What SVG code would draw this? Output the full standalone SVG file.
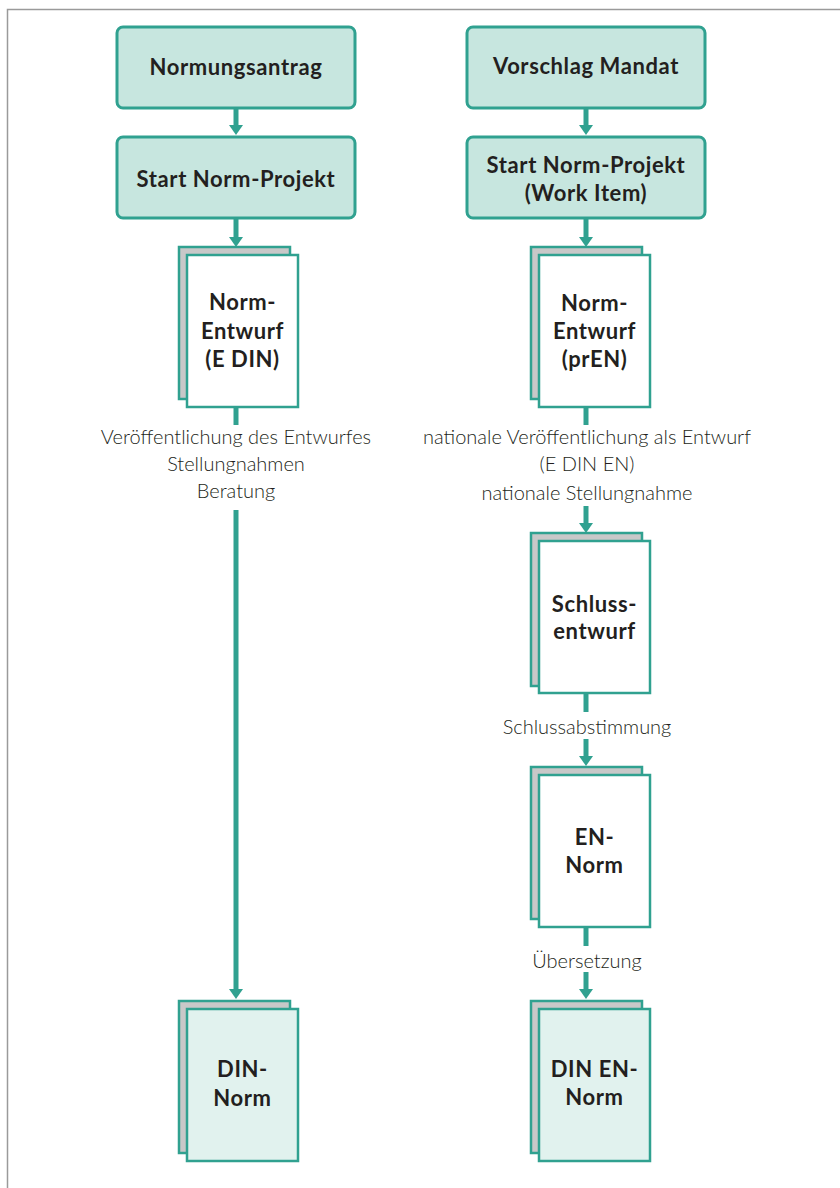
<svg xmlns="http://www.w3.org/2000/svg" width="840" height="1188" viewBox="0 0 840 1188">
<defs>
<style>
.frame{fill:none;stroke:#9a9a9a;stroke-width:1.5}
.box{fill:#c7e6df;stroke:#30a190;stroke-width:3}
.back{fill:#c8c8c8;stroke:#30a190;stroke-width:2.5}
.front{fill:#ffffff;stroke:#30a190;stroke-width:2.5}
.final{fill:#e1f2ee;stroke:#30a190;stroke-width:2.5}
.t{font-family:Lato,"DejaVu Sans",sans-serif;font-weight:bold;font-size:22px;letter-spacing:0.6px;fill:#231f20;text-anchor:middle}
.l{font-family:Lato,"DejaVu Sans",sans-serif;font-weight:300;font-size:20px;fill:#231f20;text-anchor:middle}
.c{stroke:#30a190;stroke-width:5;fill:none}
.h{fill:#30a190}
</style>
</defs>
<rect width="840" height="1188" fill="#ffffff"/>
<path class="frame" d="M7.5 1188 V9.5 H840"/>
<g id="connectors">
<line class="c" x1="236" y1="108" x2="236" y2="126"/><polygon class="h" points="229,125 243,125 236,135"/>
<line class="c" x1="236" y1="218" x2="236" y2="238"/><polygon class="h" points="229,237 243,237 236,247"/>
<line class="c" x1="236" y1="407" x2="236" y2="425"/>
<line class="c" x1="236" y1="510" x2="236" y2="990"/><polygon class="h" points="229,989 243,989 236,999"/>
<line class="c" x1="586" y1="108" x2="586" y2="126"/><polygon class="h" points="579,125 593,125 586,135"/>
<line class="c" x1="586" y1="218" x2="586" y2="238"/><polygon class="h" points="579,237 593,237 586,247"/>
<line class="c" x1="586" y1="407" x2="586" y2="425"/>
<line class="c" x1="586" y1="506" x2="586" y2="524"/><polygon class="h" points="579,523 593,523 586,533"/>
<line class="c" x1="586" y1="693" x2="586" y2="712"/>
<line class="c" x1="586" y1="739" x2="586" y2="757"/><polygon class="h" points="579,756 593,756 586,766"/>
<line class="c" x1="586" y1="927" x2="586" y2="946"/>
<line class="c" x1="586" y1="972" x2="586" y2="990"/><polygon class="h" points="579,989 593,989 586,999"/>
</g>
<g id="labels">
<text class="l" x="236" y="444">Veröffentlichung des Entwurfes</text>
<text class="l" x="236" y="471">Stellungnahmen</text>
<text class="l" x="236" y="498">Beratung</text>
<text class="l" x="587" y="444">nationale Veröffentlichung als Entwurf</text>
<text class="l" x="587" y="471">(E DIN EN)</text>
<text class="l" x="587" y="500">nationale Stellungnahme</text>
<text class="l" x="587" y="734">Schlussabstimmung</text>
<text class="l" x="587" y="968">Übersetzung</text>
</g>
<g id="normungsantrag"><rect class="box" x="117" y="27" width="238" height="81" rx="6"/><text class="t" x="236" y="75">Normungsantrag</text></g>
<g id="start-norm-projekt"><rect class="box" x="117" y="137" width="238" height="81" rx="6"/><text class="t" x="236" y="187">Start Norm-Projekt</text></g>
<g id="vorschlag-mandat"><rect class="box" x="467" y="27" width="238" height="81" rx="6"/><text class="t" x="586" y="74">Vorschlag Mandat</text></g>
<g id="start-norm-projekt-wi"><rect class="box" x="467" y="137" width="238" height="81" rx="6"/><text class="t" x="586" y="173">Start Norm-Projekt</text><text class="t" x="586" y="201">(Work Item)</text></g>
<g id="norm-entwurf-edin"><rect class="back" x="179" y="247" width="111" height="152"/><rect class="front" x="187" y="255" width="111" height="152"/><text class="t" x="242.5" y="310">Norm-</text><text class="t" x="242.5" y="339">Entwurf</text><text class="t" x="242.5" y="367">(E DIN)</text></g>
<g id="din-norm"><rect class="back" x="179" y="1001" width="111" height="152"/><rect class="final" x="187" y="1009" width="111" height="152"/><text class="t" x="242.5" y="1077">DIN-</text><text class="t" x="242.5" y="1106">Norm</text></g>
<g id="norm-entwurf-pren"><rect class="back" x="531" y="247" width="111" height="152"/><rect class="front" x="539" y="255" width="111" height="152"/><text class="t" x="594.5" y="311">Norm-</text><text class="t" x="594.5" y="339">Entwurf</text><text class="t" x="594.5" y="367">(prEN)</text></g>
<g id="schlussentwurf"><rect class="back" x="531" y="533" width="111" height="153"/><rect class="front" x="539" y="541" width="111" height="152"/><text class="t" x="594.5" y="612">Schluss-</text><text class="t" x="594.5" y="639">entwurf</text></g>
<g id="en-norm"><rect class="back" x="531" y="767" width="111" height="152"/><rect class="front" x="539" y="775" width="111" height="152"/><text class="t" x="594.5" y="845">EN-</text><text class="t" x="594.5" y="873">Norm</text></g>
<g id="din-en-norm"><rect class="back" x="531" y="1001" width="111" height="152"/><rect class="final" x="539" y="1009" width="111" height="152"/><text class="t" x="594.5" y="1077">DIN EN-</text><text class="t" x="594.5" y="1105">Norm</text></g>
</svg>
